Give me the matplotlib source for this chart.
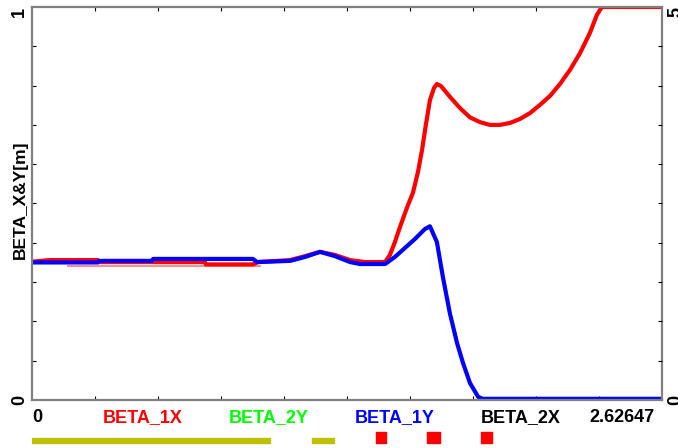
"""Beta functions along the line, MAD-style plot with element bar below."""

import matplotlib

matplotlib.use("Agg")
import matplotlib.pyplot as plt  # noqa: E402
from matplotlib.transforms import offset_copy  # noqa: E402

plt.rcParams["font.family"] = ["Liberation Sans", "DejaVu Sans"]

S_END = 2.62647

# beta_x (red), normalised to the left axis
s_betx = [0.000, 0.075, 0.275, 0.279, 0.721, 0.725, 0.921, 0.942, 1.076, 1.138,
          1.201, 1.263, 1.326, 1.388, 1.472, 1.492, 1.513, 1.534, 1.563, 1.588,
          1.609, 1.626, 1.642, 1.659, 1.676, 1.688, 1.705, 1.743, 1.784, 1.826,
          1.868, 1.909, 1.951, 1.993, 2.034, 2.076, 2.118, 2.160, 2.201, 2.243,
          2.285, 2.326, 2.355, 2.376, 2.626]
betx = [0.352, 0.356, 0.356, 0.351, 0.351, 0.345, 0.345, 0.351, 0.356, 0.366,
        0.377, 0.369, 0.356, 0.351, 0.351, 0.369, 0.402, 0.440, 0.489, 0.527,
        0.580, 0.636, 0.700, 0.763, 0.794, 0.804, 0.799, 0.771, 0.743, 0.719,
        0.707, 0.700, 0.700, 0.705, 0.715, 0.730, 0.751, 0.774, 0.804, 0.840,
        0.883, 0.934, 0.980, 1.000, 1.000]

# beta_y (blue)
s_bety = [0.000, 0.275, 0.279, 0.500, 0.505, 0.921, 0.938, 1.076, 1.138, 1.201,
          1.263, 1.326, 1.367, 1.472, 1.513, 1.555, 1.597, 1.638, 1.659, 1.688,
          1.713, 1.742, 1.772, 1.797, 1.826, 1.860, 1.880, 2.626]
bety = [0.350, 0.350, 0.354, 0.354, 0.359, 0.359, 0.351, 0.354, 0.364, 0.377,
        0.366, 0.351, 0.346, 0.346, 0.364, 0.387, 0.410, 0.435, 0.442, 0.402,
        0.313, 0.221, 0.145, 0.094, 0.043, 0.008, 0.003, 0.003]

# faint second beta_x trace
s_pink = [0.146, 0.955]
pink = [0.341, 0.341]

# lower labels: text, colour, x in data units
labels = ["BETA_1X", "BETA_2Y", "BETA_1Y", "BETA_2X"]
label_colors = ["#ff0000", "#00ff00", "#0000ff", "#000000"]
label_s = [0.460, 0.988, 1.513, 2.038]

# element bar: drifts/quads (olive), dipoles (red)
olive_elems = [(0.000, 0.992), (1.167, 1.259)]
red_elems = [(1.434, 1.476), (1.647, 1.701), (1.872, 1.918)]

W, H = 678, 448
fig = plt.figure(figsize=(W / 100, H / 100), dpi=100)
ax = fig.add_axes([32 / W, 48 / H, 630 / W, 393 / H])

ax.plot(s_pink, pink, color="#ff8c8c", lw=1.5, solid_capstyle="butt")
ax.plot(s_betx, betx, color="#ff0000", lw=3, solid_joinstyle="round")
ax.plot(s_bety, bety, color="#0000ff", lw=3, solid_joinstyle="round")

ax.set_xlim(0, S_END)
ax.set_ylim(0, 1)
for sp in ax.spines.values():
    sp.set_color("#808080")
    sp.set_linewidth(1.6)
ax.set_xticks([i * S_END / 10 for i in range(1, 10)])
ax.set_xticklabels([])
ax.set_yticks([i / 10 for i in range(1, 10)])
ax.set_yticklabels([])
ax.tick_params(axis="both", direction="in", length=3, width=0.8, top=True)
ax.set_ylabel("BETA_X&Y[m]", fontsize=12.5, fontweight="bold")
ax.yaxis.set_label_coords(-0.006, 0.509)

ax2 = ax.twinx()
ax2.set_ylim(0, 5)
ax2.set_yticks([i / 2 for i in range(1, 10)])
ax2.set_yticklabels([])
ax2.tick_params(axis="y", direction="in", length=3, width=0.8)
for sp in ax2.spines.values():
    sp.set_visible(False)

# axis end values, rotated as in the original
ytr = ax.get_yaxis_transform()
left_tr = offset_copy(ytr, fig=fig, x=-4, y=0, units="dots")
right_tr = offset_copy(ytr, fig=fig, x=5, y=0, units="dots")
bold = dict(fontsize=13, fontweight="bold", rotation=90, va="center")
ax.text(0, 0.987, "1", transform=left_tr, ha="right", **bold)
ax.text(0, 0.0, "0", transform=left_tr, ha="right", **bold)
ax.text(1, 0.987, "5", transform=right_tr, ha="left", **bold)
ax.text(1, 0.0, "0", transform=right_tr, ha="left", **bold)

# labels under the axis
xtr = ax.get_xaxis_transform()
ax.text(0, -0.045, "0", transform=xtr, ha="left", va="center", fontsize=13,
        fontweight="bold")
for txt, col, s in zip(labels, label_colors, label_s):
    ax.text(s, -0.045, txt, transform=xtr, ha="center", va="center",
            fontsize=13, fontweight="bold", color=col)
ax.text(2.46, -0.045, f"{S_END}", transform=xtr, ha="center", va="center",
        fontsize=13, fontweight="bold")

# element bar
axe = fig.add_axes([32 / W, 0, 630 / W, 26 / H])
axe.set_xlim(0, S_END)
axe.set_ylim(0, 26)
for a, b in olive_elems:
    axe.broken_barh([(a, b - a)], (5, 5), color="#c0c000")
for a, b in red_elems:
    axe.broken_barh([(a, b - a)], (5, 11), color="#ff0000")
axe.axis("off")

fig.savefig("out.png", dpi=100)
